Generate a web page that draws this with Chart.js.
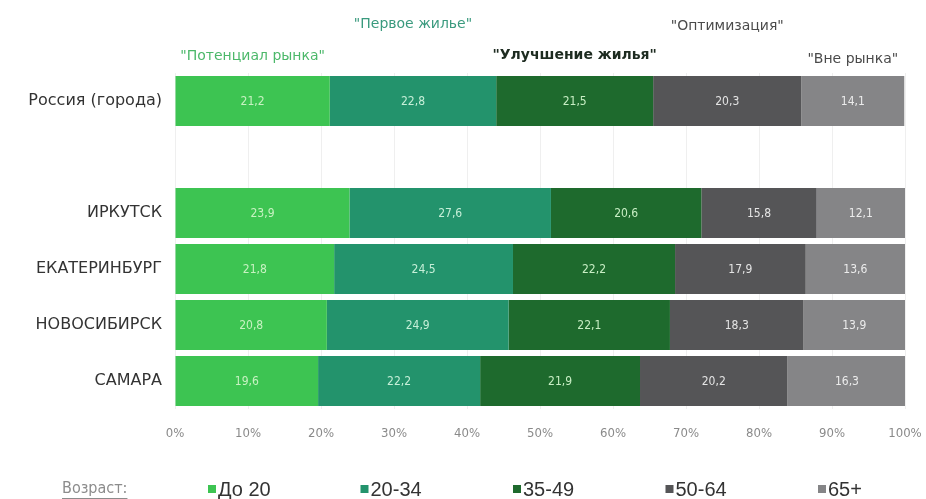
<!DOCTYPE html>
<html>
<head>
<meta charset="utf-8">
<script src="https://cdn.jsdelivr.net/npm/chart.js@4"></script>
<style>
  html, body { margin: 0; padding: 0; background: #fff; }
  #wrap { width: 926px; height: 499px; }
</style>
</head>
<body>
<div id="wrap"><canvas id="myChart" width="926" height="499"></canvas></div>
<script>
// rows (empty string = spacer row between Russia and the cities)
var cities = ['Россия (города)', '', 'ИРКУТСК', 'ЕКАТЕРИНБУРГ', 'НОВОСИБИРСК', 'САМАРА'];

var ages = ['До 20', '20-34', '35-49', '50-64', '65+'];
var segments = ['"Потенциал рынка"', '"Первое жилье"', '"Улучшение жилья"', '"Оптимизация"', '"Вне рынка"'];

var under20 = [21.2, null, 23.9, 21.8, 20.8, 19.6];
var age20_34 = [22.8, null, 27.6, 24.5, 24.9, 22.2];
var age35_49 = [21.5, null, 20.6, 22.2, 22.1, 21.9];
var age50_64 = [20.3, null, 15.8, 17.9, 18.3, 20.2];
var age65 = [14.1, null, 12.1, 13.6, 13.9, 16.3];

var xTicks = [0, 10, 20, 30, 40, 50, 60, 70, 80, 90, 100];

var colors = ['#3dc452', '#23936c', '#1e6a2d', '#555557', '#858587'];
var valueColors = ['#c8f2c2', '#c6efd8', '#c8eec4', '#e4e4e4', '#ececec'];
var segmentColors = ['#4cb86a', '#3a9a7e', '#1d2b20', '#4a4a4a', '#4a4a4a'];

var series = [under20, age20_34, age35_49, age50_64, age65];

// value labels in the middle of every segment
var valueLabels = {
  id: 'valueLabels',
  afterDatasetsDraw: function (chart) {
    var c = chart.ctx;
    c.save();
    c.font = '12px "DejaVu Sans Condensed", "DejaVu Sans", sans-serif';
    c.textAlign = 'center';
    c.textBaseline = 'middle';
    chart.data.datasets.forEach(function (ds, i) {
      var meta = chart.getDatasetMeta(i);
      meta.data.forEach(function (bar, j) {
        var v = ds.data[j];
        if (v == null) return;
        c.fillStyle = valueColors[i];
        c.fillText(v.toFixed(1).replace('.', ','), (bar.x + bar.base) / 2, bar.y + 1);
      });
    });
    c.restore();
  }
};

// segment names over the Russia bar, and the age legend underneath
var extras = {
  id: 'extras',
  afterDraw: function (chart) {
    var c = chart.ctx;
    c.save();
    c.textAlign = 'center';
    c.textBaseline = 'middle';
    var rowY = [56, 24, 55, 26, 59];
    segments.forEach(function (name, i) {
      var bar = chart.getDatasetMeta(i).data[0];
      c.font = (i === 2 ? 'bold ' : '') + '14px "DejaVu Sans", sans-serif';
      c.fillStyle = segmentColors[i];
      c.fillText(name, (bar.x + bar.base) / 2, rowY[i]);
    });

    // legend
    var ly = 489;
    c.textAlign = 'left';
    c.font = '16px "DejaVu Sans Condensed", "DejaVu Sans", sans-serif';
    c.fillStyle = '#8c8c8c';
    var cap = 'Возраст:';
    c.fillText(cap, 62, ly);
    var w = c.measureText(cap).width;
    c.fillRect(62, ly + 9, w, 1);

    c.font = '20px "Liberation Sans", Arial, sans-serif';
    ages.forEach(function (a, i) {
      var x = 208 + i * 152.5;
      c.fillStyle = colors[i];
      c.fillRect(x, ly - 4, 8, 8);
      c.fillStyle = '#333';
      c.fillText(a, x + 10, ly + 1);
    });
    c.restore();
  }
};

var ctx = document.getElementById('myChart');
var myChart = new Chart(ctx, {
  type: 'bar',
  data: {
    labels: cities,
    datasets: series.map(function (d, i) {
      return {
        label: ages[i],
        data: d,
        backgroundColor: colors[i],
        borderWidth: 0,
        barPercentage: 0.89,
        categoryPercentage: 1
      };
    })
  },
  options: {
    indexAxis: 'y',
    responsive: false,
    animation: false,
    layout: { padding: { top: 73, right: 21, bottom: 50, left: 0 } },
    plugins: {
      legend: { display: false },
      tooltip: { enabled: false }
    },
    scales: {
      x: {
        stacked: true,
        min: 0,
        max: 100,
        afterBuildTicks: function (scale) {
          scale.ticks = xTicks.map(function (v) { return { value: v }; });
        },
        afterFit: function (scale) {
          scale.height = 40;
          scale.paddingLeft = 0;
          scale.paddingRight = 0;
        },
        grid: { color: '#efefef', drawTicks: false },
        border: { display: false },
        ticks: {
          padding: 17,
          color: '#8a8a8a',
          font: { size: 13, family: '"DejaVu Sans Condensed", "DejaVu Sans", sans-serif' },
          callback: function (v) { return v + '%'; }
        }
      },
      y: {
        stacked: true,
        afterFit: function (scale) { scale.width = 175; },
        grid: { display: false, drawTicks: false },
        border: { display: false },
        ticks: {
          padding: 13,
          color: '#333',
          font: { size: 16, family: '"DejaVu Sans", sans-serif' }
        }
      }
    }
  },
  plugins: [valueLabels, extras]
});
</script>
</body>
</html>
